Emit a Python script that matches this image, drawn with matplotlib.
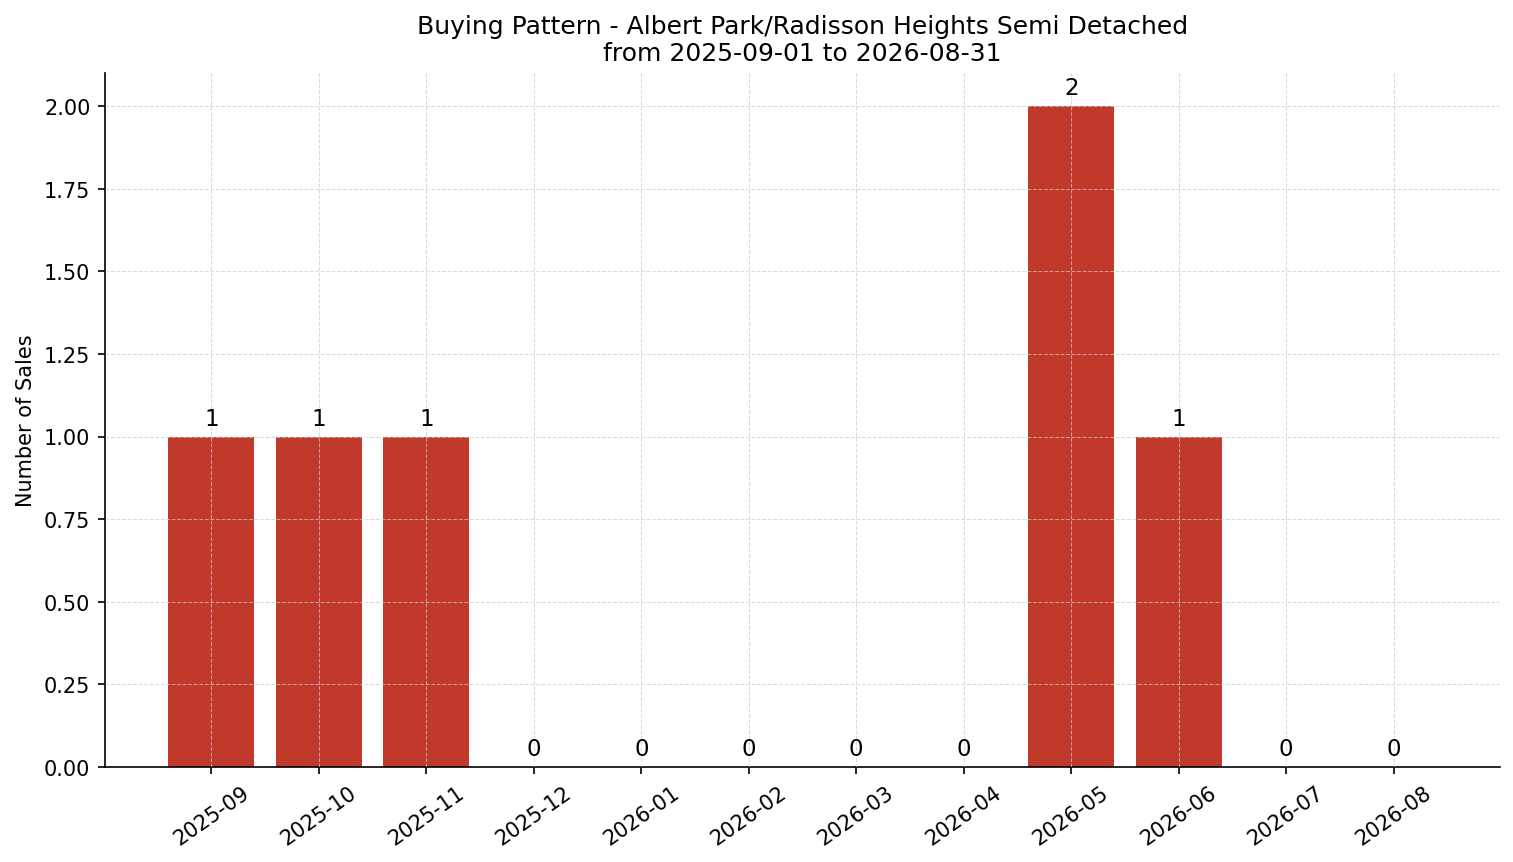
import matplotlib
matplotlib.use("Agg")
import matplotlib.pyplot as plt

# monthly sales counts
months = ['2025-09', '2025-10', '2025-11', '2025-12', '2026-01', '2026-02',
          '2026-03', '2026-04', '2026-05', '2026-06', '2026-07', '2026-08']
sales = [1, 1, 1, 0, 0, 0, 0, 0, 2, 1, 0, 0]

fig = plt.figure(figsize=(10.093, 5.753), dpi=150)
ax = fig.add_axes([105/1514, 1 - 768/863, (1500-105)/1514, (768-74)/863])

bars = ax.bar(months, sales, color='#c0392b', width=0.8, zorder=2)
for b, v in zip(bars, sales):
    ax.text(b.get_x() + b.get_width()/2, v + 0.02, str(v),
            ha='center', va='bottom', fontsize=11)

ax.set_ylim(0, 2.1)
ax.set_yticks([0, 0.25, 0.5, 0.75, 1.0, 1.25, 1.5, 1.75, 2.0])
ax.set_ylabel('Number of Sales', fontsize=10)
ax.set_title('Buying Pattern - Albert Park/Radisson Heights Semi Detached\nfrom 2025-09-01 to 2026-08-31',
             fontsize=12)
ax.grid(True, linestyle='--', color='#cccccc', alpha=0.7, linewidth=0.5, zorder=0)
ax.set_axisbelow(False)
ax.spines['top'].set_visible(False)
ax.spines['right'].set_visible(False)
plt.setp(ax.get_xticklabels(), rotation=35)
ax.tick_params(labelsize=10)

fig.savefig('out.png', dpi=150)
